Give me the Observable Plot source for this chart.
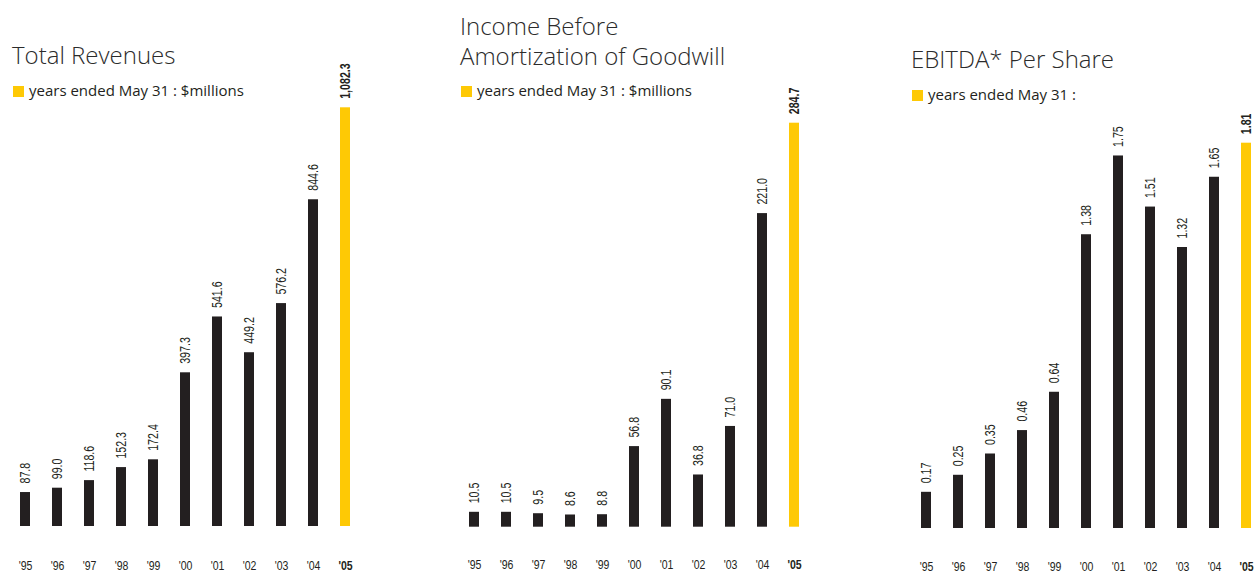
<!DOCTYPE html>
<html>
<head>
<meta charset="utf-8">
<script src="https://cdn.jsdelivr.net/npm/d3@7"></script>
<script src="https://cdn.jsdelivr.net/npm/@observablehq/plot@0.6"></script>
<style>
  html, body { margin: 0; padding: 0; background: #fff; }
  #root { position: relative; width: 1257px; height: 573px; overflow: hidden; }
  .panel { position: absolute; top: 0; height: 573px; }
  .panel svg { position: absolute; left: 0; top: 0; overflow: visible; }
  .title { position: absolute; font-family: "Open Sans", "Noto Sans", sans-serif; font-weight: 300; font-size: 24px; color: #2b2b2b; line-height: 30px; white-space: nowrap; }
  .legend { position: absolute; font-family: "Open Sans", "Noto Sans", sans-serif; font-size: 15px; color: #231f20; white-space: nowrap; line-height: 15px; }
  .legend .sw { display: inline-block; width: 11px; height: 11px; background: #fec905; margin-right: 5px; vertical-align: -1px; }
</style>
</head>
<body>
<div id="root"></div>
<script>
const years = ["'95","'96","'97","'98","'99","'00","'01","'02","'03","'04","'05"];
const revenues = [87.8, 99.0, 118.6, 152.3, 172.4, 397.3, 541.6, 449.2, 576.2, 844.6, 1082.3];
const income = [10.5, 10.5, 9.5, 8.6, 8.8, 56.8, 90.1, 36.8, 71.0, 221.0, 284.7];
const ebitda = [0.17, 0.25, 0.35, 0.46, 0.64, 1.38, 1.75, 1.51, 1.32, 1.65, 1.81];

const titles = ["Total Revenues", "Income Before<br>Amortization of Goodwill", "EBITDA* Per Share"];
const legends = ["years ended May 31 : $millions", "years ended May 31 : $millions", "years ended May 31 :"];

const DARK = "#231f20", YELLOW = "#fec905";
const narrow = "'Liberation Sans', Arial, sans-serif";

const panels = [
  {values: revenues, fmt: d3.format(",.1f"), left: 0, width: 440, xr: [18, 352], yr: [526, 107.3], tickDy: 39,
   title: {x: 12, y: 40}, legend: {x: 13, y: 83}},
  {values: income, fmt: d3.format(".1f"), left: 450, width: 440, xr: [17, 351], yr: [526.7, 122.7], tickDy: 37.5,
   title: {x: 460, y: 11}, legend: {x: 461, y: 83}},
  {values: ebitda, fmt: d3.format(".2f"), left: 900, width: 357, xr: [19, 353], yr: [528, 142.7], tickDy: 38,
   title: {x: 911, y: 44}, legend: {x: 912, y: 87}}
];

const root = document.getElementById("root");

panels.forEach((p, k) => {
  const rows = years.map((y, i) => ({year: y, value: p.values[i], label: p.fmt(p.values[i]), last: i === years.length - 1}));
  const chart = Plot.plot({
    width: p.width,
    height: 573,
    marginLeft: 0, marginRight: 0, marginTop: 0, marginBottom: 0,
    style: {fontFamily: narrow, background: "transparent", overflow: "visible"},
    x: {type: "band", domain: years, range: p.xr, paddingInner: 0.69, paddingOuter: 0, align: 0.5, axis: null},
    y: {domain: [0, d3.max(p.values)], range: p.yr, axis: null},
    marks: [
      Plot.barY(rows, {x: "year", y: "value", fill: d => d.last ? YELLOW : DARK}),
      Plot.text(rows.filter(d => !d.last), {x: "year", y: "value", text: "label", rotate: -90, textAnchor: "start", dy: -9, fontSize: 14, fill: DARK, className: "vlab"}),
      Plot.text(rows.filter(d => d.last), {x: "year", y: "value", text: "label", rotate: -90, textAnchor: "start", dy: -9, fontSize: 14, fontWeight: "bold", fill: DARK, className: "vlab"}),
      Plot.text(rows.filter(d => !d.last), {x: "year", y: () => 0, text: "year", dy: p.tickDy, fontSize: 13.5, fill: DARK, className: "tlab"}),
      Plot.text(rows.filter(d => d.last), {x: "year", y: () => 0, text: "year", dy: p.tickDy, fontSize: 13.5, fontWeight: "bold", fill: DARK, className: "tlab"})
    ]
  });
  // condense the label glyphs (narrow typeface look)
  d3.select(chart).selectAll(".vlab text").each(function() {
    const t = this.getAttribute("transform") || "";
    this.setAttribute("transform", t + " scale(0.76,1)");
  });
  d3.select(chart).selectAll(".tlab text").each(function() {
    const t = this.getAttribute("transform") || "";
    this.setAttribute("transform", t + " scale(0.78,1)");
  });
  const div = document.createElement("div");
  div.className = "panel";
  div.style.left = p.left + "px";
  div.style.width = p.width + "px";
  div.appendChild(chart);
  root.appendChild(div);

  const t = document.createElement("div");
  t.className = "title";
  t.style.left = p.title.x + "px";
  t.style.top = p.title.y + "px";
  t.innerHTML = titles[k];
  root.appendChild(t);

  const l = document.createElement("div");
  l.className = "legend";
  l.style.left = p.legend.x + "px";
  l.style.top = p.legend.y + "px";
  l.innerHTML = '<span class="sw"></span>';
  l.appendChild(document.createTextNode(legends[k]));
  root.appendChild(l);
});
</script>
</body>
</html>
